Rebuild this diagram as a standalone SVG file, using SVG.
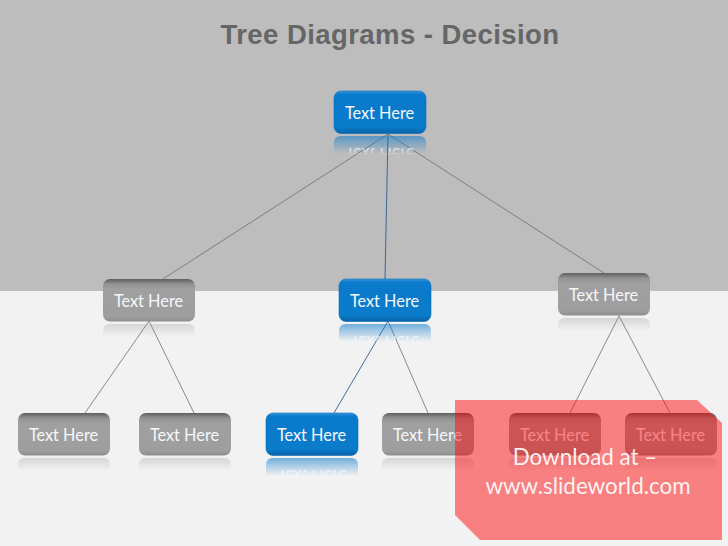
<svg xmlns="http://www.w3.org/2000/svg" width="728" height="546" viewBox="0 0 728 546">
<style>
.lbl{font-family:"Lato","Open Sans",sans-serif;font-size:16.3px;fill:#f4f8fb;text-anchor:middle}
.mir{font-family:"Lato","Open Sans",sans-serif;font-size:16.3px;fill:url(#mirFade);text-anchor:middle}
.con{fill:none;stroke:#6f6f6f;stroke-width:.8}
.conb{fill:none;stroke:#2f5f96;stroke-width:.9}
.wm{font-family:"Lato","Open Sans",sans-serif;font-size:22.4px;fill:#fff;text-anchor:middle;fill-opacity:.92}
</style>
<defs>
<linearGradient id="blue" x1="0" y1="0" x2="0" y2="1">
<stop offset="0" stop-color="#3c9ce0"/><stop offset=".07" stop-color="#0a7acc"/><stop offset=".85" stop-color="#0a7cca"/><stop offset="1" stop-color="#0862a8"/>
</linearGradient>
<linearGradient id="gray" x1="0" y1="0" x2="0" y2="1">
<stop offset="0" stop-color="#5f5f5f"/><stop offset=".12" stop-color="#929292"/><stop offset=".25" stop-color="#a0a0a0"/><stop offset=".88" stop-color="#9e9e9e"/><stop offset="1" stop-color="#8e8e8e"/>
</linearGradient>
<linearGradient id="refB" x1="0" y1="0" x2="0" y2="1">
<stop offset="0" stop-color="#0a78cc" stop-opacity=".55"/><stop offset=".85" stop-color="#0a78cc" stop-opacity="0"/>
</linearGradient>
<linearGradient id="refG" x1="0" y1="0" x2="0" y2="1">
<stop offset="0" stop-color="#999" stop-opacity=".32"/><stop offset=".6" stop-color="#999" stop-opacity="0"/>
</linearGradient>
<linearGradient id="mirFade" x1="0" y1="0" x2="0" y2="1">
<stop offset="0" stop-color="#fff" stop-opacity="0"/><stop offset=".45" stop-color="#fff" stop-opacity="0"/><stop offset=".75" stop-color="#fff" stop-opacity=".6"/><stop offset="1" stop-color="#fff" stop-opacity=".7"/>
</linearGradient>
<g id="bb">
<path d="M0 23V9Q0 2 7 2H85Q92 2 92 9V23Z" fill="url(#refB)" transform="translate(0,43)"/>
<rect x="0" y="0" width="92" height="42.5" rx="7" fill="url(#blue)" stroke="#0a6cb5" stroke-width=".6"/>
</g>
<g id="gb">
<path d="M0 23V9Q0 2 7 2H85Q92 2 92 9V23Z" fill="url(#refG)" transform="translate(0,43)"/>
<rect x="0" y="0" width="92" height="42.5" rx="7" fill="url(#gray)"/>
</g>
</defs>
<rect id="bg-top" width="728" height="291" fill="#bdbdbd"/>
<rect id="bg-bottom" y="291" width="728" height="255" fill="#f2f2f2"/>
<text id="title" x="390" y="44" font-family="Liberation Sans, Arial, sans-serif" font-weight="700" font-size="27.5" letter-spacing=".43" fill="#666" text-anchor="middle">Tree Diagrams - Decision</text>
<g id="connectors">
<path class="con" d="M388 134L163 279M388 134L604 273M149 321L85 413M149 321L194 413M388 321L428 413M619 316L570 413M619 316L670 413"/>
<path class="conb" d="M388 134L385 279M388 321L334 413"/>
</g>
<g id="n-root" transform="translate(334,91)"><use href="#bb"/><text class="lbl" x="45.5" y="27.8">Text Here</text><text class="mir" x="46" y="-57" transform="scale(1,-1)">Text Here</text></g>
<g id="n-left" transform="translate(103,279)"><use href="#gb"/><text class="lbl" x="45.5" y="27.8">Text Here</text></g>
<g id="n-mid" transform="translate(339,279)"><use href="#bb"/><text class="lbl" x="45.5" y="27.8">Text Here</text><text class="mir" x="46" y="-57" transform="scale(1,-1)">Text Here</text></g>
<g id="n-right" transform="translate(558,273)"><use href="#gb"/><text class="lbl" x="45.5" y="27.8">Text Here</text></g>
<g id="n-ll" transform="translate(18,413)"><use href="#gb"/><text class="lbl" x="45.5" y="27.8">Text Here</text></g>
<g id="n-lr" transform="translate(139,413)"><use href="#gb"/><text class="lbl" x="45.5" y="27.8">Text Here</text></g>
<g id="n-ml" transform="translate(266,413)"><use href="#bb"/><text class="lbl" x="45.5" y="27.8">Text Here</text><text class="mir" x="46" y="-57" transform="scale(1,-1)">Text Here</text></g>
<g id="n-mr" transform="translate(382,413)"><use href="#gb"/><text class="lbl" x="45.5" y="27.8">Text Here</text></g>
<g id="n-rl" transform="translate(509,413)"><use href="#gb"/><text class="lbl" x="45.5" y="27.8">Text Here</text></g>
<g id="n-rr" transform="translate(625,413)"><use href="#gb"/><text class="lbl" x="45.5" y="27.8">Text Here</text></g>
<g id="watermark">
<polygon points="455,400 697,400 722,423 722,540 480,540 455,515" fill="#ff0000" fill-opacity=".47"/>
<text class="wm" x="585" y="465">Download at –</text>
<text class="wm" x="588" y="494">www.slideworld.com</text>
</g>
</svg>
